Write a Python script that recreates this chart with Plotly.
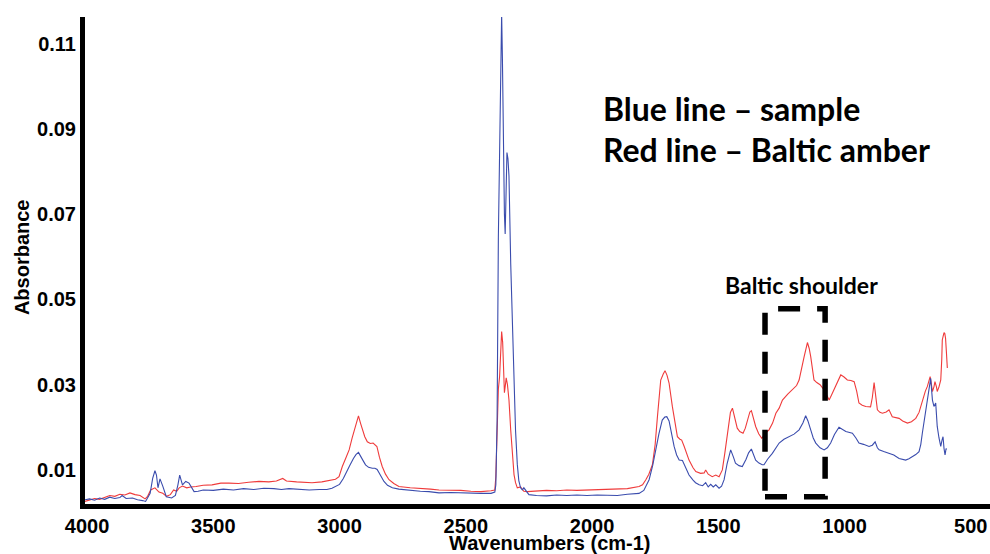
import plotly.graph_objects as go

# ---------------- data ----------------
blue_wn = [4008, 3990, 3970, 3950, 3930, 3910, 3890, 3870, 3861, 3845, 3820, 3800, 3780, 3768,
           3750, 3740, 3731, 3725, 3719, 3711, 3700, 3686, 3665, 3650, 3640, 3633, 3622, 3609,
           3596, 3585, 3576, 3560, 3540, 3500, 3460, 3420, 3380, 3340, 3300, 3260, 3230, 3200,
           3160, 3120, 3080, 3050, 3030, 3010, 3000, 2985, 2970, 2960, 2945, 2935, 2925, 2915,
           2905, 2897, 2885, 2870, 2860, 2851, 2840, 2824, 2810, 2791, 2765, 2720, 2680, 2646,
           2606, 2560, 2520, 2480, 2440, 2400, 2385, 2381, 2376, 2371, 2366, 2362, 2358, 2355,
           2351, 2347, 2344, 2340, 2337, 2333, 2329, 2322, 2316, 2309, 2303, 2296, 2290, 2283,
           2276, 2270, 2262, 2250, 2220, 2180, 2140, 2100, 2060, 2020, 1980, 1940, 1900, 1860,
           1830, 1814, 1795, 1774, 1760, 1748, 1735, 1722, 1712, 1704, 1695, 1688, 1675, 1665,
           1655, 1642, 1630, 1616, 1600, 1590, 1576, 1562, 1550, 1540, 1530, 1520, 1510, 1497,
           1487, 1477, 1465, 1451, 1440, 1432, 1418, 1405, 1390, 1380, 1369, 1360, 1352, 1339,
           1326, 1319, 1305, 1286, 1272, 1259, 1240, 1220, 1200, 1180, 1165, 1154, 1145, 1134,
           1124, 1114, 1097, 1081, 1068, 1055, 1040, 1022, 1008, 995, 980, 969, 955, 943, 925,
           903, 890, 879, 870, 863, 845, 824, 805, 784, 770, 758, 745, 731, 718, 705, 698, 692,
           685, 678, 665, 659, 652, 646, 639, 633, 626, 619, 614, 610, 606, 602, 598, 595]
blue_abs = [0.0030, 0.0032, 0.0029, 0.0034, 0.0031, 0.0036, 0.0033, 0.0035, 0.0040, 0.0033, 0.0034,
            0.0030, 0.0028, 0.0026, 0.0045, 0.0080, 0.0098, 0.0088, 0.0058, 0.0079, 0.0062, 0.0037,
            0.0034, 0.0040, 0.0065, 0.0088, 0.0065, 0.0073, 0.0069, 0.0058, 0.0049, 0.0050, 0.0053,
            0.0052, 0.0055, 0.0053, 0.0056, 0.0054, 0.0057, 0.0056, 0.0054, 0.0056, 0.0054, 0.0053,
            0.0054, 0.0054, 0.0057, 0.0062, 0.0066, 0.0080, 0.0100, 0.0110, 0.0127, 0.0136, 0.0141,
            0.0132, 0.0120, 0.0112, 0.0106, 0.0104, 0.0104, 0.0101, 0.0090, 0.0073, 0.0064, 0.0058,
            0.0055, 0.0052, 0.0050, 0.0049, 0.0046, 0.0047, 0.0046, 0.0045, 0.0045, 0.0045, 0.0048,
            0.0065, 0.0216, 0.0646, 0.0837, 0.1060, 0.1170, 0.1068, 0.0814, 0.0700, 0.0654, 0.0800,
            0.0845, 0.0830, 0.0790, 0.0583, 0.0463, 0.0328, 0.0193, 0.0113, 0.0075, 0.0058, 0.0053,
            0.0058, 0.0052, 0.0042, 0.0040, 0.0039, 0.0041, 0.0040, 0.0041, 0.0040, 0.0041, 0.0040,
            0.0040, 0.0043, 0.0044, 0.0045, 0.0052, 0.0077, 0.0110, 0.0147, 0.0185, 0.0217, 0.0224,
            0.0225, 0.0215, 0.0194, 0.0155, 0.0135, 0.0123, 0.0122, 0.0105, 0.0088, 0.0076, 0.0070,
            0.0065, 0.0063, 0.0070, 0.0060, 0.0066, 0.0060, 0.0065, 0.0057, 0.0062, 0.0077, 0.0115,
            0.0147, 0.0130, 0.0116, 0.0110, 0.0108, 0.0125, 0.0140, 0.0149, 0.0135, 0.0123, 0.0116,
            0.0112, 0.0112, 0.0125, 0.0139, 0.0152, 0.0163, 0.0172, 0.0178, 0.0184, 0.0194, 0.0210,
            0.0227, 0.0215, 0.0194, 0.0175, 0.0163, 0.0152, 0.0147, 0.0152, 0.0163, 0.0183, 0.0200,
            0.0195, 0.0190, 0.0188, 0.0186, 0.0175, 0.0163, 0.0160, 0.0155, 0.0158, 0.0166, 0.0152,
            0.0147, 0.0143, 0.0139, 0.0135, 0.0127, 0.0125, 0.0123, 0.0126, 0.0131, 0.0136, 0.0143,
            0.0160, 0.0186, 0.0215, 0.0241, 0.0296, 0.0315, 0.0264, 0.0249, 0.0257, 0.0202, 0.0175,
            0.0155, 0.0170, 0.0178, 0.0150, 0.0135, 0.0150, 0.0148]

red_wn = [4008, 3990, 3970, 3950, 3930, 3910, 3890, 3870, 3850, 3830, 3810, 3790, 3770, 3760,
          3748, 3731, 3715, 3700, 3685, 3670, 3657, 3645, 3635, 3622, 3605, 3590, 3568, 3540,
          3505, 3470, 3438, 3400, 3360, 3319, 3280, 3250, 3225, 3210, 3170, 3140, 3109, 3070,
          3040, 3016, 3002, 2989, 2975, 2962, 2950, 2936, 2925, 2917, 2909, 2900, 2890, 2878,
          2867, 2860, 2852, 2842, 2831, 2818, 2804, 2785, 2765, 2720, 2680, 2640, 2606, 2560,
          2520, 2480, 2440, 2400, 2385, 2381, 2376, 2371, 2366, 2362, 2358, 2354, 2350, 2347,
          2343, 2340, 2335, 2329, 2322, 2316, 2309, 2303, 2296, 2283, 2270, 2257, 2220, 2180,
          2140, 2100, 2060, 2020, 1980, 1940, 1900, 1860, 1814, 1800, 1787, 1775, 1761, 1750,
          1741, 1728, 1718, 1711, 1703, 1695, 1682, 1672, 1662, 1652, 1645, 1635, 1625, 1616,
          1600, 1589, 1570, 1556, 1550, 1540, 1524, 1510, 1497, 1484, 1474, 1464, 1452, 1444,
          1435, 1425, 1415, 1402, 1393, 1385, 1375, 1369, 1360, 1352, 1340, 1328, 1315, 1299,
          1285, 1272, 1259, 1246, 1225, 1207, 1190, 1180, 1168, 1160, 1147, 1140, 1134, 1127,
          1121, 1110, 1097, 1081, 1070, 1061, 1052, 1042, 1030, 1015, 1002, 989, 975, 962, 952,
          943, 930, 916, 897, 890, 883, 878, 870, 860, 850, 835, 824, 811, 795, 784, 770, 751,
          735, 718, 705, 692, 680, 672, 661, 656, 652, 646, 642, 636, 633, 626, 619, 615, 613,
          609, 606, 603, 600, 597, 593]
red_abs = [0.0026, 0.0030, 0.0033, 0.0031, 0.0036, 0.0040, 0.0038, 0.0043, 0.0041, 0.0046, 0.0042,
           0.0040, 0.0032, 0.0038, 0.0053, 0.0058, 0.0048, 0.0045, 0.0038, 0.0042, 0.0053, 0.0050,
           0.0058, 0.0062, 0.0058, 0.0060, 0.0061, 0.0064, 0.0065, 0.0069, 0.0069, 0.0068, 0.0071,
           0.0073, 0.0072, 0.0074, 0.0080, 0.0074, 0.0072, 0.0071, 0.0070, 0.0072, 0.0075, 0.0078,
           0.0084, 0.0108, 0.0128, 0.0147, 0.0175, 0.0202, 0.0227, 0.0210, 0.0194, 0.0178, 0.0166,
           0.0162, 0.0163, 0.0160, 0.0155, 0.0130, 0.0108, 0.0090, 0.0077, 0.0068, 0.0061, 0.0058,
           0.0057, 0.0055, 0.0053, 0.0053, 0.0052, 0.0050, 0.0049, 0.0051, 0.0053, 0.0085, 0.0213,
           0.0290, 0.0320, 0.0380, 0.0425, 0.0400, 0.0310, 0.0281, 0.0300, 0.0316, 0.0300, 0.0264,
           0.0193, 0.0137, 0.0089, 0.0070, 0.0058, 0.0060, 0.0050, 0.0049, 0.0051, 0.0052, 0.0051,
           0.0053, 0.0052, 0.0053, 0.0054, 0.0054, 0.0055, 0.0056, 0.0061, 0.0065, 0.0077, 0.0090,
           0.0112, 0.0160, 0.0225, 0.0311, 0.0325, 0.0333, 0.0322, 0.0304, 0.0249, 0.0210, 0.0178,
           0.0172, 0.0170, 0.0155, 0.0138, 0.0123, 0.0105, 0.0096, 0.0092, 0.0093, 0.0100, 0.0090,
           0.0084, 0.0088, 0.0084, 0.0100, 0.0140, 0.0186, 0.0235, 0.0245, 0.0222, 0.0198, 0.0190,
           0.0186, 0.0198, 0.0213, 0.0236, 0.0239, 0.0220, 0.0202, 0.0185, 0.0174, 0.0185, 0.0194,
           0.0210, 0.0233, 0.0245, 0.0264, 0.0278, 0.0288, 0.0298, 0.0311, 0.0340, 0.0366, 0.0399,
           0.0385, 0.0366, 0.0335, 0.0311, 0.0305, 0.0300, 0.0288, 0.0275, 0.0264, 0.0275, 0.0288,
           0.0305, 0.0323, 0.0318, 0.0311, 0.0310, 0.0307, 0.0285, 0.0257, 0.0252, 0.0249, 0.0248,
           0.0270, 0.0305, 0.0285, 0.0241, 0.0235, 0.0233, 0.0236, 0.0241, 0.0225, 0.0223, 0.0221,
           0.0215, 0.0210, 0.0213, 0.0221, 0.0235, 0.0264, 0.0285, 0.0296, 0.0319, 0.0300, 0.0284,
           0.0295, 0.0307, 0.0295, 0.0284, 0.0295, 0.0311, 0.0360, 0.0405, 0.0415, 0.0422, 0.0420,
           0.0409, 0.0380, 0.0339]

x_tick_vals = [4000, 3500, 3000, 2500, 2000, 1500, 1000, 500]
x_tick_text = ["4000", "3500", "3000", "2500", "2000", "1500", "1000", "500"]
y_tick_vals = [0.01, 0.03, 0.05, 0.07, 0.09, 0.11]
y_tick_text = ["0.01", "0.03", "0.05", "0.07", "0.09", "0.11"]

# ---------------- figure ----------------
fig = go.Figure()
fig.add_trace(go.Scatter(x=red_wn, y=red_abs, mode="lines", name="Baltic amber",
                         line=dict(color="#ef3b3b", width=1.1)))
fig.add_trace(go.Scatter(x=blue_wn, y=blue_abs, mode="lines", name="sample",
                         line=dict(color="#3a4cad", width=1.1)))

tick_font = dict(family="Liberation Sans, Arial, sans-serif", size=20, color="black", weight="bold")

fig.update_layout(
    width=990, height=554, autosize=False,
    margin=dict(l=85, r=0, t=17, b=50),
    paper_bgcolor="white", plot_bgcolor="white",
    showlegend=False,
    xaxis=dict(range=[4008, 424], showgrid=False, zeroline=False,
               showline=True, linewidth=5, linecolor="black",
               tickvals=x_tick_vals, ticktext=x_tick_text, ticks="",
               tickfont=tick_font),
    yaxis=dict(range=[0.002, 0.1163], showgrid=False, zeroline=False,
               showline=True, linewidth=5, linecolor="black",
               tickvals=y_tick_vals, ticktext=y_tick_text, ticks="",
               tickfont=tick_font),
)

bold_font = dict(family="Liberation Sans, Arial, sans-serif", color="black", weight="bold")
fig.add_annotation(x=0, y=0.507, xref="paper", yref="paper", text="Absorbance",
                   textangle=-90, showarrow=False, xanchor="center", yanchor="middle",
                   xshift=-63, font=dict(bold_font, size=20))
fig.add_annotation(x=0.514, y=0, xref="paper", yref="paper", text="Wavenumbers (cm-1)",
                   showarrow=False, xanchor="center", yanchor="top", yshift=-26,
                   font=dict(bold_font, size=20))

label_font = dict(family="Lato, Carlito, sans-serif", color="black", weight="bold")
fig.add_annotation(x=0.570, y=0.813, xref="paper", yref="paper", text="Blue line – sample",
                   showarrow=False, xanchor="left", yanchor="middle", font=dict(label_font, size=32))
fig.add_annotation(x=0.570, y=0.727, xref="paper", yref="paper", text="Red line – Baltic amber",
                   showarrow=False, xanchor="left", yanchor="middle", font=dict(label_font, size=32))
fig.add_annotation(x=0.792, y=0.450, xref="paper", yref="paper", text="Baltic shoulder",
                   showarrow=False, xanchor="center", yanchor="middle", font=dict(label_font, size=23))

fig.add_shape(type="rect", xref="x", yref="y", x0=1315, x1=1077, y0=0.0037, y1=0.0478,
              line=dict(color="black", width=5.5, dash="22px,17px"))

fig.write_html("out.html",
               config={"displayModeBar": False},
               post_script="document.body.style.margin='0';document.body.style.overflow='hidden';")
